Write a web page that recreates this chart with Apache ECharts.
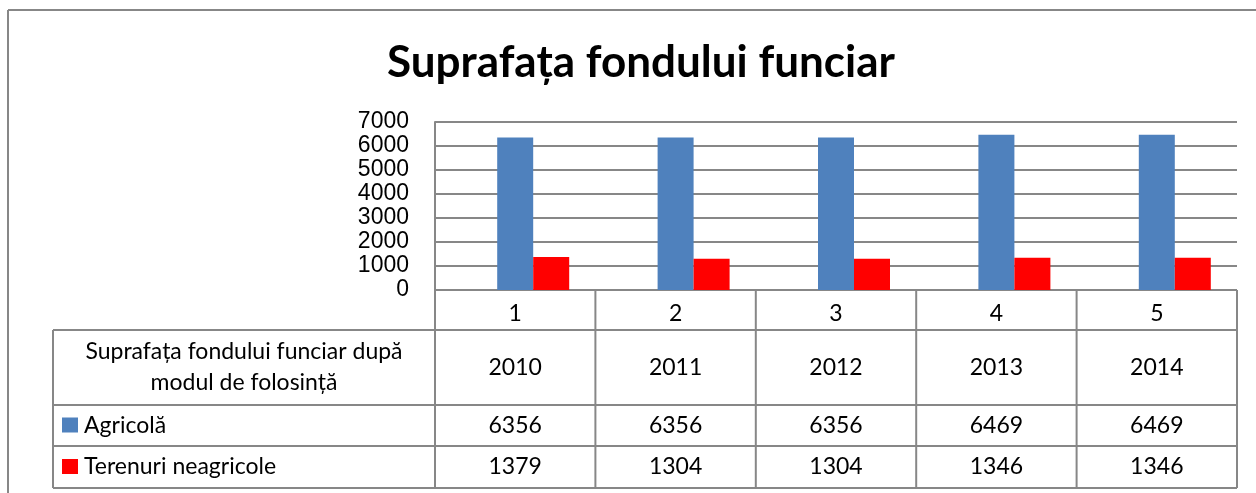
<!DOCTYPE html>
<html lang="ro">
<head>
<meta charset="UTF-8">
<title>Suprafata fondului funciar</title>
<style>
  html, body { margin: 0; padding: 0; background: #fff; }
  #main { width: 1256px; height: 493px; }
</style>
<script src="https://cdn.jsdelivr.net/npm/echarts@6/dist/echarts.min.js"></script>
</head>
<body>
<div id="main"></div>
<script>
// date citite din tabel
var categorii = ['1', '2', '3', '4', '5'];
var ani = ['2010', '2011', '2012', '2013', '2014'];
var agricola = [6356, 6356, 6356, 6469, 6469];
var neagricole = [1379, 1304, 1304, 1346, 1346];
var numeSerii = ['Agricolă', 'Terenuri neagricole'];
var culori = ['#4F81BD', '#FF0000'];
var titlu = 'Suprafața fondului funciar';
var capTabel = ['Suprafața fondului funciar după', 'modul de folosință'];

var chart = echarts.init(document.getElementById('main'));

// asezarea graficului si a tabelului
var gx = 435, gy = 122, gw = 802, gh = 168;
var colW = gw / categorii.length;
var rows = [290, 330, 405, 446, 488];
var tabLeft = 53;
var gri = '#878787';
var fontTab = '23px Lato';

var graphic = [];
function linie(x1, y1, x2, y2) {
  graphic.push({type: 'line', silent: true,
    shape: {x1: x1, y1: y1, x2: x2, y2: y2},
    style: {stroke: gri, lineWidth: 2}});
}
function text(t, x, y, align) {
  graphic.push({type: 'text', silent: true,
    style: {text: t, x: x, y: y, align: align || 'center', verticalAlign: 'middle',
      font: fontTab, fill: '#000'}});
}

// chenarul exterior
linie(8, 10, 1256, 10);
linie(8, 10, 8, 493);

// liniile tabelului
linie(gx, rows[0], gx + gw, rows[0]);
for (var r = 1; r < rows.length; r++) linie(tabLeft, rows[r], gx + gw, rows[r]);
linie(tabLeft, rows[1], tabLeft, rows[4]);
for (var c = 0; c <= categorii.length; c++) linie(gx + c * colW, rows[0], gx + c * colW, rows[4]);

// textul tabelului
var midL = (tabLeft + gx) / 2;
text(capTabel[0], midL, 352);
text(capTabel[1], midL, 383);
for (var i = 0; i < categorii.length; i++) {
  var cx = gx + (i + 0.5) * colW;
  text(ani[i], cx, (rows[1] + rows[2]) / 2);
  text(String(agricola[i]), cx, (rows[2] + rows[3]) / 2);
  text(String(neagricole[i]), cx, (rows[3] + rows[4]) / 2);
}
// legenda in tabel
[agricola, neagricole].forEach(function (s, k) {
  var cy = (rows[2 + k] + rows[3 + k]) / 2;
  graphic.push({type: 'rect', silent: true,
    shape: {x: 62, y: cy - 8, width: 16, height: 15},
    style: {fill: culori[k]}});
  text(numeSerii[k], 84, cy, 'left');
});

var option = {
  animation: false,
  title: {
    text: titlu, left: 636, top: 36, textAlign: 'center',
    textStyle: {fontFamily: 'Lato', fontWeight: 'bold', fontSize: 44, color: '#000'}
  },
  grid: {left: gx, top: gy, width: gw, height: gh},
  xAxis: {
    type: 'category', data: categorii,
    axisLine: {show: false}, axisTick: {show: false},
    axisLabel: {margin: 12, fontFamily: 'Lato', fontSize: 23, color: '#000'}
  },
  yAxis: {
    type: 'value', min: 0, max: 7000, interval: 1000,
    axisLine: {show: true, lineStyle: {color: gri, width: 2}},
    axisTick: {show: false},
    splitLine: {lineStyle: {color: gri, width: 2}},
    axisLabel: {margin: 26, fontFamily: 'Liberation Sans', fontSize: 23, color: '#000',
      formatter: function (v) { return String(v); }}
  },
  series: [
    // serie goala: muta perechea de bare la dreapta, ca in original
    {type: 'bar', name: '', data: [], barWidth: 36, barGap: 0, silent: true},
    {type: 'bar', name: numeSerii[0], data: agricola, barWidth: 36, barGap: 0,
      itemStyle: {color: culori[0]}},
    {type: 'bar', name: numeSerii[1], data: neagricole, barWidth: 36, barGap: 0,
      itemStyle: {color: culori[1]}}
  ],
  graphic: graphic
};
chart.setOption(option);
</script>
</body>
</html>
